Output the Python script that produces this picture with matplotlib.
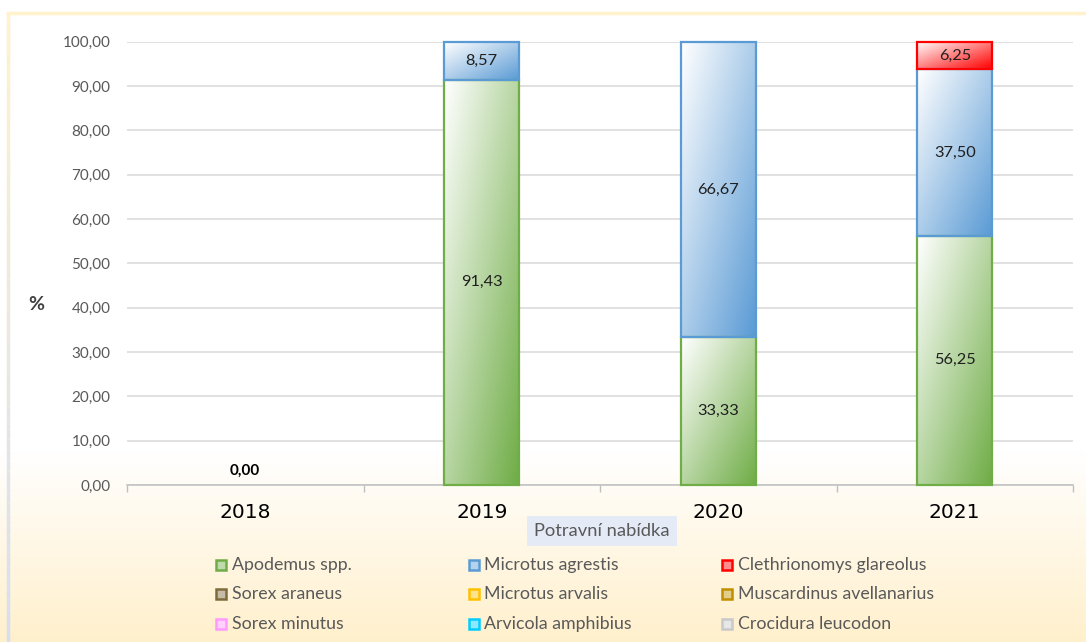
import numpy as np
import matplotlib.pyplot as plt
from matplotlib.patches import Rectangle
from matplotlib.colors import to_rgb
from matplotlib.collections import LineCollection

years = ['2018', '2019', '2020', '2021']
species = ['Apodemus spp.', 'Microtus agrestis', 'Clethrionomys glareolus',
           'Sorex araneus', 'Microtus arvalis', 'Muscardinus avellanarius',
           'Sorex minutus', 'Arvicola amphibius', 'Crocidura leucodon']
apodemus = [0.00, 91.43, 33.33, 56.25]
microtus_agrestis = [0.00, 8.57, 66.67, 37.50]
clethrionomys = [0.00, 0.00, 0.00, 6.25]
sorex_araneus = [0.00, 0.00, 0.00, 0.00]
microtus_arvalis = [0.00, 0.00, 0.00, 0.00]
muscardinus = [0.00, 0.00, 0.00, 0.00]
sorex_minutus = [0.00, 0.00, 0.00, 0.00]
arvicola = [0.00, 0.00, 0.00, 0.00]
crocidura = [0.00, 0.00, 0.00, 0.00]
series = [apodemus, microtus_agrestis, clethrionomys, sorex_araneus,
          microtus_arvalis, muscardinus, sorex_minutus, arvicola, crocidura]
colors = ['#70AD47', '#5B9BD5', '#FF0000', '#7F6A3C', '#FFC000',
          '#BF8F00', '#FF99FF', '#00CCFF', '#C9C9C9']
yticks = [0, 10, 20, 30, 40, 50, 60, 70, 80, 90, 100]

FONT = 'Lato'
W, H = 1086, 642


def fmt(v):
    return f'{v:.2f}'.replace('.', ',')


def shade(color, n=48):
    # diagonal fill: white in the top-left corner, full colour bottom-right
    c = np.array(to_rgb(color))
    u = np.linspace(0, 1, n)
    U, V = np.meshgrid(u, u)
    t = (U + V) / 2
    return (1 - t)[..., None] * np.ones(3) + t[..., None] * c


def gradient_bar(ax, x, bottom, height, width, color, z):
    x0 = x - width / 2
    ax.imshow(shade(color), extent=(x0, x0 + width, bottom, bottom + height),
              origin='upper', aspect='auto', interpolation='bilinear', zorder=2)
    ax.add_patch(Rectangle((x0, bottom), width, height, facecolor='none',
                           edgecolor=color, lw=1.6, zorder=z, clip_on=False))


fig = plt.figure(figsize=(W / 100, H / 100), dpi=100)

# background: white fading to pale yellow towards the bottom
bg = fig.add_axes([0, 0, 1, 1], zorder=-5)
g = np.ones((H, 1, 3))
cream = np.array(to_rgb('#FFF0CC'))
for r in range(H):
    if r > 450:
        t = (r - 450) / (H - 450)
        g[r, 0] = (1 - t) * np.ones(3) + t * cream
bg.imshow(g, extent=(0, W, H, 0), aspect='auto')
bg.set_xlim(0, W)
bg.set_ylim(H, 0)
bg.axis('off')

# chart frame
bg.plot([8, W], [12.5, 12.5], color='#FFF2CC', lw=2.5)
ys = np.linspace(12.5, H, 60)
segs = [[(8, ys[i]), (8, ys[i + 1])] for i in range(len(ys) - 1)]
top_c = np.array(to_rgb('#FFF2CC'))
bot_c = np.array(to_rgb('#D6DEF0'))
seg_cols = [tuple((1 - k / 58) * top_c + (k / 58) * bot_c) for k in range(59)]
bg.add_collection(LineCollection(segs, colors=seg_cols, lw=2.5))

ax = fig.add_axes([127 / W, 1 - 485 / H, (1073 - 127) / W, (485 - 41.7) / H])
ax.set_facecolor('none')

x = np.arange(len(years))
width = 0.317
bottoms = np.zeros(len(years))
for i, (vals, col) in enumerate(zip(series, colors)):
    for j, v in enumerate(vals):
        if v > 0:
            gradient_bar(ax, x[j], bottoms[j], v, width, col, 3 + i * 0.01)
            ax.text(x[j], bottoms[j] + v / 2, fmt(v), ha='center', va='center',
                    fontsize=11.8, family=FONT, color='#1F1F1F', zorder=5)
    bottoms += np.array(vals)

# total label for the empty year
for j, tot in enumerate(bottoms):
    if tot == 0:
        ax.text(x[j], tot + 3.2, fmt(tot), ha='center', va='center',
                fontsize=11, family=FONT, fontweight='bold', color='#000000')

ax.set_xlim(-0.5, len(years) - 0.5)
ax.set_ylim(0, 100)
ax.set_yticks(yticks)
ax.set_yticklabels([fmt(v) for v in yticks], family=FONT, fontsize=11,
                   color='#595959')
ax.tick_params(axis='y', length=0, pad=12)
ax.set_xticks(x)
ax.set_xticklabels(years, family='DejaVu Sans', fontsize=14.5, color='#000000')
ax.tick_params(axis='x', which='major', length=0, pad=13)
ax.set_xticks(np.arange(-0.5, len(years)), minor=True)
ax.tick_params(axis='x', which='minor', length=5, width=1, color='#BFBFBF',
               direction='out')
ax.grid(axis='y', color='#D9D9D9', lw=1.1, zorder=0)
ax.set_axisbelow(True)
for s in ['top', 'right', 'left']:
    ax.spines[s].set_visible(False)
ax.spines['bottom'].set_color('#BFBFBF')
ax.spines['bottom'].set_linewidth(1.1)

# axis titles
fig.text(36 / W, 1 - 305 / H, '%', ha='center', va='center', fontsize=14,
         family=FONT, fontweight='bold', color='#404040')
bg.add_patch(Rectangle((527, 516), 150, 30, facecolor='#E4EAF6',
                       edgecolor='none'))
bg.text(602, 531, 'Potravní nabídka', ha='center', va='center', fontsize=13.2,
        family=FONT, color='#595959')

# legend, filled row by row in three columns
col_x = [215, 468, 721]
row_y = [565, 594, 624]
for i, (name, col) in enumerate(zip(species, colors)):
    cx, cy = col_x[i % 3], row_y[i // 3]
    fill = tuple(0.55 * np.ones(3) + 0.45 * np.array(to_rgb(col)))
    bg.add_patch(Rectangle((cx + 1, cy - 5), 10, 10, facecolor=fill,
                           edgecolor=col, lw=1.8))
    bg.text(cx + 16.5, cy, name, ha='left', va='center', fontsize=12.8,
            family=FONT, color='#595959')

fig.savefig('out.png', dpi=100)
